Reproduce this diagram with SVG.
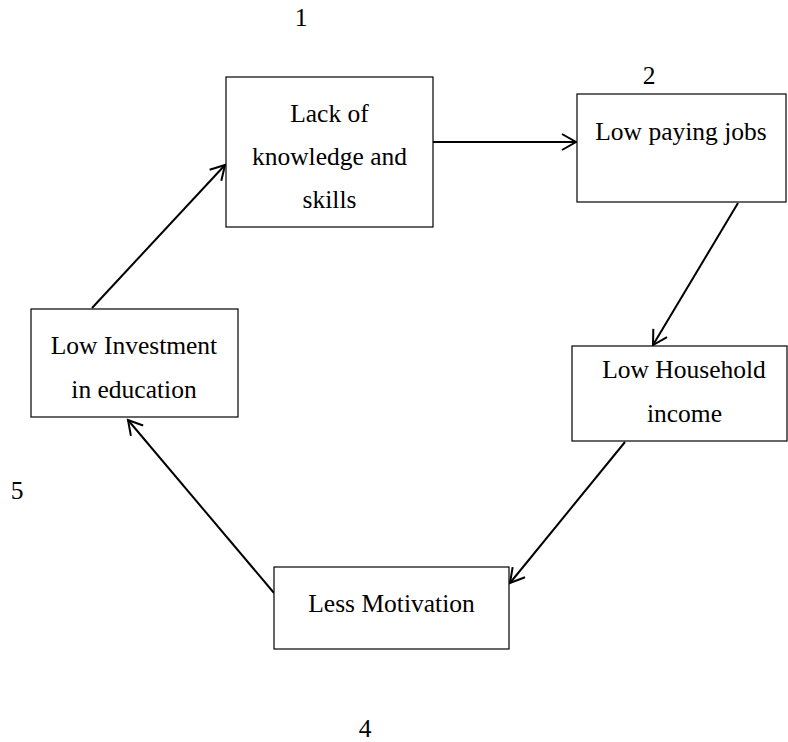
<svg xmlns="http://www.w3.org/2000/svg" width="788" height="742" viewBox="0 0 788 742">
<defs>
<style>
.box{fill:#fff;stroke:#000;stroke-width:1.2}
.t{font-family:"Liberation Serif","Times New Roman",serif;font-size:25.5px;fill:#000;text-anchor:middle}
.c{fill:none;stroke:#000;stroke-width:2}
</style>
<marker id="arr" markerUnits="userSpaceOnUse" markerWidth="18" markerHeight="20" refX="15" refY="9" orient="auto">
<path d="M1,1 L15,9 L1,17" fill="none" stroke="#000" stroke-width="2"/>
</marker>
</defs>
<rect width="788" height="742" fill="#fff"/>
<g id="labels">
<text class="t" x="301" y="26">1</text>
<text class="t" x="649" y="84">2</text>
<text class="t" x="17" y="499">5</text>
<text class="t" x="365" y="737">4</text>
</g>
<g id="connectors">
<line class="c" x1="433" y1="142" x2="576" y2="142" marker-end="url(#arr)"/>
<line class="c" x1="738" y1="203" x2="653" y2="345" marker-end="url(#arr)"/>
<line class="c" x1="625" y1="442" x2="510" y2="583" marker-end="url(#arr)"/>
<line class="c" x1="274" y1="593" x2="128" y2="420" marker-end="url(#arr)"/>
<line class="c" x1="92" y1="308" x2="225" y2="165" marker-end="url(#arr)"/>
</g>
<g id="node-knowledge">
<rect class="box" x="226" y="77" width="207" height="150"/>
<text class="t" x="329.5" y="122">Lack of</text>
<text class="t" x="329.5" y="165">knowledge and</text>
<text class="t" x="329.5" y="208">skills</text>
</g>
<g id="node-jobs">
<rect class="box" x="577" y="94" width="209" height="108"/>
<text class="t" x="681" y="140">Low paying jobs</text>
</g>
<g id="node-income">
<rect class="box" x="572" y="346" width="215" height="95"/>
<text class="t" x="684" y="378">Low Household</text>
<text class="t" x="684.5" y="422">income</text>
</g>
<g id="node-motivation">
<rect class="box" x="274" y="567" width="235" height="82"/>
<text class="t" x="391.5" y="612">Less Motivation</text>
</g>
<g id="node-investment">
<rect class="box" x="31" y="309" width="207" height="108"/>
<text class="t" x="134" y="354">Low Investment</text>
<text class="t" x="134" y="398">in education</text>
</g>
</svg>
